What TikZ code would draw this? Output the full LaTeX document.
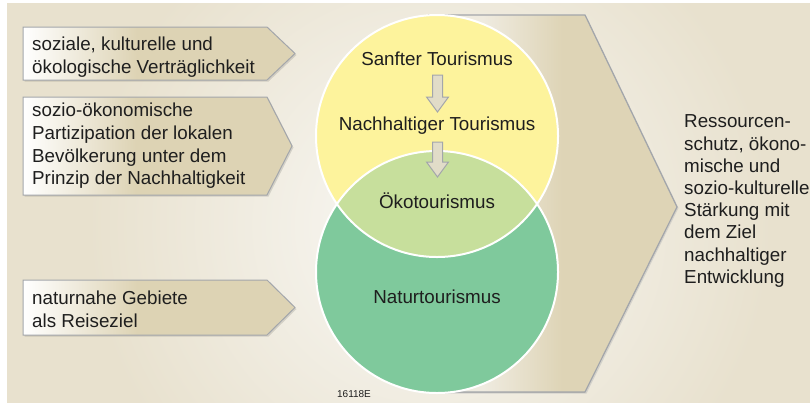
\documentclass[tikz,border=0pt]{standalone}
\usepackage{fontspec}
\setmainfont{Liberation Sans}
\definecolor{bgbeige}{HTML}{E8E1CE}
\definecolor{bglight}{HTML}{F6F4EE}
\definecolor{boxtan}{HTML}{DDD3B4}
\definecolor{chevtan}{HTML}{DED4B6}
\definecolor{chevlight}{HTML}{EFEBE0}
\definecolor{edgegray}{HTML}{A3A6AB}
\definecolor{yellowc}{HTML}{FDF39C}
\definecolor{limec}{HTML}{C7DF9C}
\definecolor{greenc}{HTML}{7FC99C}
\definecolor{inkc}{HTML}{1E1E1E}
\definecolor{arrowfill}{HTML}{E1DCC8}
\pgfdeclarehorizontalshading{boxshade}{100bp}{color(0bp)=(white); color(25bp)=(white); color(46bp)=(boxtan); color(100bp)=(boxtan)}
\pgfdeclarehorizontalshading{chevshade}{100bp}{color(0bp)=(chevlight); color(36bp)=(chevlight); color(52bp)=(chevtan); color(100bp)=(chevtan)}
\pgfdeclareradialshading{glow}{\pgfpoint{0bp}{0bp}}{color(0bp)=(bglight); color(4bp)=(bglight); color(19bp)=(bgbeige); color(50bp)=(bgbeige)}
\tikzset{
  bigtext/.style={font=\fontsize{18.8}{22.6}\selectfont, text=inkc, inner sep=0pt},
  boxtext/.style={bigtext, anchor=west, align=left},
  infobox/.style={shading=boxshade, draw=edgegray, line width=1pt},
  boxshadow/.style={fill=black, fill opacity=0.12},
  downarrow/.pic={
    \draw[draw=edgegray, line width=1pt, fill=arrowfill, line join=miter]
      (-5,0) -- (5,0) -- (5,#1) -- (11,#1) -- (0,#1+15) -- (-11,#1) -- (-5,#1) -- cycle;
  }
}
\begin{document}
\begin{tikzpicture}[x=1pt,y=-1pt]
\useasboundingbox (0,0) rectangle (810,402);
% background with a soft light glow around the circles
\begin{scope}
  \clip (7,3) rectangle (810,402);
  \fill[shading=glow] (-20,-225) rectangle (880,675);
\end{scope}

% large chevron behind the circles
\fill[edgegray, opacity=0.35] (430,16.5) -- (586.5,16.5) -- (678.5,208) -- (586.5,393.5) -- (437,393.5) -- cycle;
\fill[shading=chevshade] (428,15) -- (585,15) -- (677,207) -- (585,392) -- (437,392) -- cycle;
\draw[edgegray, line width=1.2pt, line join=miter] (428,15) -- (585,15) -- (677,207) -- (585,392) -- (437,392);

% overlapping circles
\coordinate (cy) at (437,136);
\coordinate (cg) at (437,272);
\fill[yellowc] (cy) circle (121pt);
\fill[greenc] (cg) circle (121pt);
\begin{scope}
  \clip (cy) circle (121pt);
  \fill[limec] (cg) circle (121pt);
\end{scope}
\draw[white, line width=2pt] (cy) circle (121pt) (cg) circle (121pt);

\node[bigtext] (sanft) at (437,59) {Sanfter Tourismus};
\node[bigtext] (nachh) at (437,126) {Nachhaltiger Tourismus};
\node[bigtext] (oeko) at (437,201) {Ökotourismus};
\node[bigtext] (natur) at (437,297) {Naturtourismus};
\pic at (437.5,75) {downarrow=22};
\pic at (437.5,142) {downarrow=20};

% pentagon boxes on the left
\fill[boxshadow] (24.5,28.5) -- (268.5,28.5) -- (296.5,55) -- (268.5,81.5) -- (24.5,81.5) -- cycle;
\path[infobox] (23,27) -- (267,27) -- (295,53.5) -- (267,80) -- (23,80) -- cycle;
\node[boxtext] (t1) at (32,57) {soziale, kulturelle und\\ökologische Verträglichkeit};

\fill[boxshadow] (24.5,98.5) -- (268.5,98.5) -- (293.5,147.5) -- (268.5,196.5) -- (24.5,196.5) -- cycle;
\path[infobox] (23,97) -- (267,97) -- (292,146) -- (267,195) -- (23,195) -- cycle;
\node[boxtext] (t2) at (32,146) {sozio-ökonomische\\Partizipation der lokalen\\Bevölkerung unter dem\\Prinzip der Nachhaltigkeit};

\fill[boxshadow] (24.5,281.5) -- (268.5,281.5) -- (296.5,309) -- (268.5,336.5) -- (24.5,336.5) -- cycle;
\path[infobox] (23,280) -- (267,280) -- (295,307.5) -- (267,335) -- (23,335) -- cycle;
\node[boxtext] (t3) at (32,309) {naturnahe Gebiete\\als Reiseziel};

% result text on the right
\node[boxtext, font=\fontsize{18.8}{22.2}\selectfont] (goal) at (684,201) {Ressourcen-\\schutz, ökono-\\mische und\\sozio-kulturelle\\Stärkung mit\\dem Ziel\\nachhaltiger\\Entwicklung};

\node[font=\fontsize{10}{12}\selectfont, text=inkc, inner sep=0pt] (code) at (354,394) {16118E};
\end{tikzpicture}
\end{document}
